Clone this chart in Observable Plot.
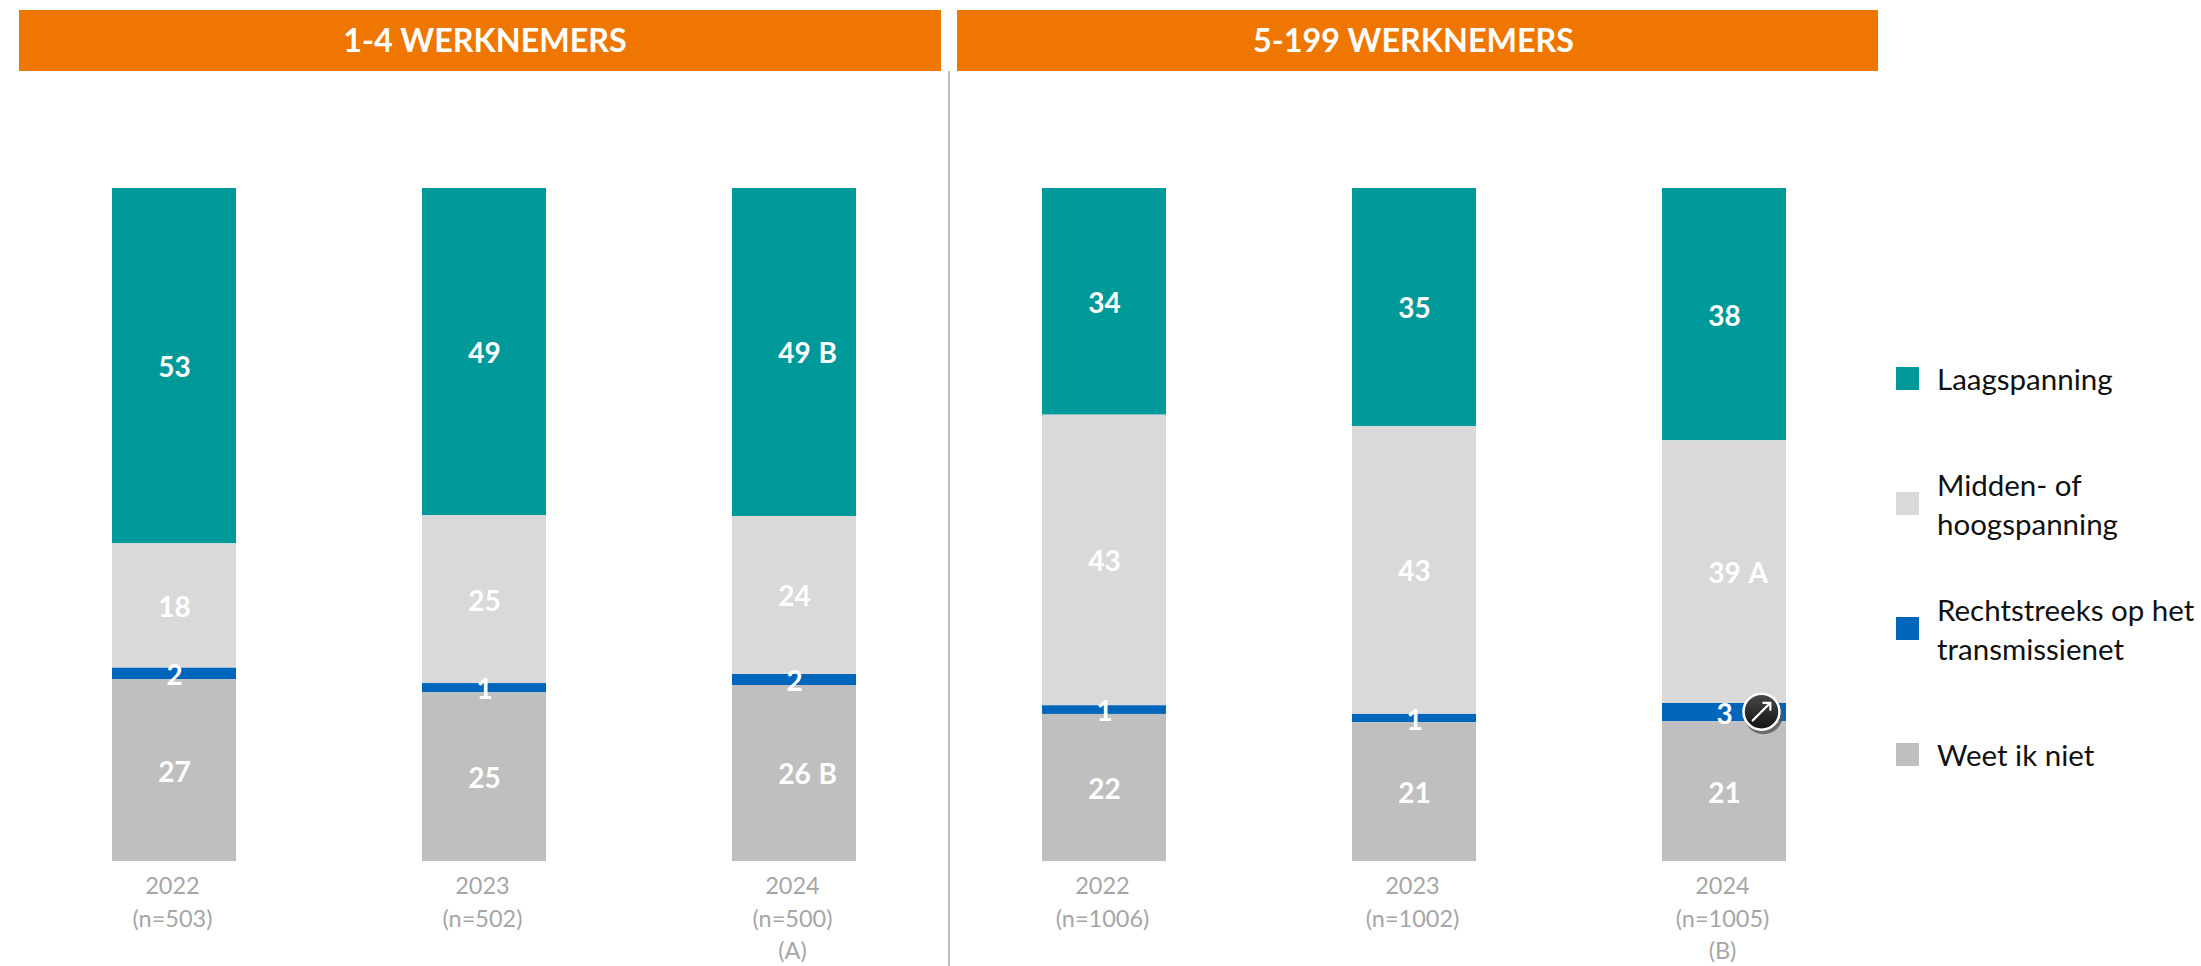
<!DOCTYPE html>
<html>
<head>
<meta charset="utf-8">
<script src="https://cdn.jsdelivr.net/npm/d3@7"></script>
<script src="https://cdn.jsdelivr.net/npm/@observablehq/plot@0.6"></script>
<style>
html,body{margin:0;padding:0;background:#fff;width:2201px;height:966px;overflow:hidden}
#page{position:relative;width:2201px;height:966px;font-family:Lato,sans-serif}
#page svg{position:absolute;left:0;top:0}
.hdr{position:absolute;top:10px;height:61px;background:#ef7600;color:#fff;font-weight:700;font-size:32.3px;line-height:60px;text-align:center;box-sizing:border-box}
.sw{position:absolute;left:1896px;width:23px;height:23px}
.lg{position:absolute;left:1937px;font-size:29.5px;line-height:39px;color:#111;white-space:pre}
</style>
</head>
<body>
<div id="page"></div>
<script>
const keys = ["a22","a23","a24","b22","b23","b24"];
const tickLabels = ["2022\n(n=503)","2023\n(n=502)","2024\n(n=500)\n(A)","2022\n(n=1006)","2023\n(n=1002)","2024\n(n=1005)\n(B)"];
const series = ["Laagspanning","Midden- of hoogspanning","Rechtstreeks op het transmissienet","Weet ik niet"];
const colors = ["#009999","#d9d9d9","#0066bb","#bfbfbf"];
const legendText = ["Laagspanning","Midden- of\nhoogspanning","Rechtstreeks op het\ntransmissienet","Weet ik niet"];
const headers = ["1-4 WERKNEMERS","5-199 WERKNEMERS"];
// segment sizes (percent of bar height)
const laag   = [52.8,48.6,48.74,33.68,35.36,37.49];
const midden = [18.48,24.96,23.48,43.18,42.79,39.03];
const recht  = [1.72,1.38,1.63,1.29,1.23,2.72];
const weet   = [27.0,25.06,26.15,21.85,20.62,20.76];
// printed labels
const laagL   = ["53","49","49","34","35","38"];
const middenL = ["18","25","24","43","43","39"];
const rechtL  = ["2","1","2","1","1","3"];
const weetL   = ["27","25","26","22","21","21"];
const laagM   = ["","","B","","",""];
const middenM = ["","","","","","A"];
const weetM   = ["","","B","","",""];

const rows = [];
[[laag,laagL,laagM],[midden,middenL,middenM],[recht,rechtL,null],[weet,weetL,weetM]].forEach(([v,l,m],s)=>{
  keys.forEach((k,i)=>rows.push({key:k,series:series[s],value:v[i],label:l[i],mark:m?m[i]:""}));
});
const stackOpts = {x:"key",y:"value",z:"series",order:[...series].reverse()};
const tickOf = new Map(keys.map((k,i)=>[k,tickLabels[i]]));
const arrowRow = [{key:"b24",level:weet[5]+recht[5]/2}];

const chart = Plot.plot({
  width:2201,height:966,
  marginLeft:0,marginRight:0,marginTop:0,marginBottom:0,
  style:{fontFamily:"Lato,sans-serif",background:"transparent"},
  x:{type:"band",domain:keys,range:[112,1786],paddingInner:0.6,paddingOuter:0,align:0,axis:null},
  y:{domain:[0,100],range:[861,188],axis:null},
  color:{domain:series,range:colors},
  marks:[
    Plot.barY(rows,Plot.stackY({...stackOpts,fill:"series"})),
    Plot.text(keys,{x:d=>d,y:()=>0,text:d=>tickOf.get(d),fontSize:23.5,fill:"#a6a6a6",lineHeight:1.37,lineAnchor:"top",dy:10,dx:-2}),
    Plot.text(rows,Plot.stackY({...stackOpts,text:"label",fill:"#fff",fontSize:28,fontWeight:700,dy:2})),
    Plot.text(rows,Plot.stackY({...stackOpts,text:"mark",fill:"#fff",fontSize:28,fontWeight:700,textAnchor:"start",dx:24,dy:2})),
    Plot.dot(arrowRow,{x:"key",y:"level",r:19.5,fill:"#555",fillOpacity:0.8,dx:39,dy:2}),
    Plot.dot(arrowRow,{x:"key",y:"level",r:18,fill:"url(#iconGrad)",stroke:"#fff",strokeWidth:2.5,dx:37,dy:-1}),
    Plot.vector(arrowRow,{x:"key",y:"level",rotate:45,length:25,anchor:"middle",stroke:"#fff",strokeWidth:2.2,dx:37,dy:-1})
  ]
});
// gradient of the round trend icon
const defs = d3.select(chart).insert("defs",":first-child");
const grad = defs.append("linearGradient").attr("id","iconGrad").attr("x1",0).attr("y1",0).attr("x2",0).attr("y2",1);
grad.append("stop").attr("offset","0%").attr("stop-color","#4a4a4a");
grad.append("stop").attr("offset","100%").attr("stop-color","#111");

const page = document.getElementById("page");
page.appendChild(chart);
const hdrPos = [[19,922,"10px","0"],[957,921,"0","8px"]];
headers.forEach((h,i)=>{
  const d=document.createElement("div");d.className="hdr";d.textContent=h;
  d.style.left=hdrPos[i][0]+"px";d.style.width=hdrPos[i][1]+"px";
  d.style.paddingLeft=hdrPos[i][2];d.style.paddingRight=hdrPos[i][3];page.appendChild(d);
});
const div=document.createElement("div");
div.style.cssText="position:absolute;left:948px;top:71px;width:2px;height:895px;background:#bfbfbf";
page.appendChild(div);
[367,492,617,743].forEach((t,i)=>{
  const s=document.createElement("div");s.className="sw";s.style.top=t+"px";s.style.background=colors[i];page.appendChild(s);
  const l=document.createElement("div");l.className="lg";l.textContent=legendText[i];
  const lines=legendText[i].split("\n").length;
  l.style.top=(t+11.5-lines*19.5)+"px";page.appendChild(l);
});
</script>
</body>
</html>
